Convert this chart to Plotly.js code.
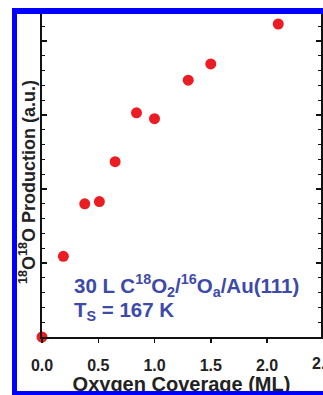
<!DOCTYPE html>
<html>
<head>
<meta charset="utf-8">
<script src="https://cdn.plot.ly/plotly-3.0.1.min.js"></script>
<style>
html,body{margin:0;padding:0;background:#fff;overflow:hidden;}
#wrap{position:relative;width:323px;height:395px;}
#chart{width:323px;height:395px;}
#frame{position:absolute;left:12px;top:8px;width:400px;height:387px;box-sizing:border-box;
border-left:5px solid #0000ff;border-top:6px solid #0000ff;border-bottom:4px solid #0000ff;pointer-events:none;}
</style>
</head>
<body>
<div id="wrap"><div id="chart"></div><div id="frame"></div></div>
<script>
const coverage = [0, 0.19, 0.38, 0.51, 0.65, 0.84, 1.0, 1.3, 1.5, 2.1];
const production = [0, 1.09, 1.80, 1.83, 2.37, 3.03, 2.95, 3.47, 3.69, 4.23];
const xTickVals = [0, 0.5, 1.0, 1.5, 2.0];
const xTickText = ['0.0', '0.5', '1.0', '1.5', '2.0'];
const xEdgeTick = 2.5;
const xEdgeText = '2.5';
const xMax = 2.48;

const fam = 'Liberation Sans, Arial, sans-serif';
const tickFont = {size: 16, weight: 'bold', color: '#222', family: fam};
const data = [{
  x: coverage, y: production, type: 'scatter', mode: 'markers',
  marker: {color: '#ec1c24', size: 11}, cliponaxis: false, showlegend: false
}];
const layout = {
  width: 323, height: 395,
  margin: {l: 42, r: 2, t: 14, b: 58},
  paper_bgcolor: '#ffffff', plot_bgcolor: '#ffffff',
  font: {family: fam, color: '#222'},
  xaxis: {
    range: [0, xMax], tickvals: xTickVals, ticktext: xTickText,
    ticks: 'outside', ticklen: 4, tickwidth: 1.5, tickcolor: '#111',
    showline: true, linecolor: '#111', linewidth: 2, mirror: false,
    showgrid: false, zeroline: false, ticklabelstandoff: 9,
    tickfont: tickFont,
    title: {text: 'Oxygen Coverage (ML)', font: {size: 20, weight: 'bold', color: '#222'}, standoff: 8}
  },
  xaxis2: {
    overlaying: 'x', side: 'top', range: [0, xMax], tickvals: xTickVals,
    showticklabels: false, ticks: 'inside', ticklen: 4, tickwidth: 1.5, tickcolor: '#111',
    showline: true, linecolor: '#111', linewidth: 2, showgrid: false, zeroline: false
  },
  yaxis: {
    range: [0, 4.365], dtick: 1, tick0: 0,
    ticks: 'inside', ticklen: 5, tickwidth: 1.5, tickcolor: '#111',
    minor: {dtick: 0.2, ticks: 'inside', ticklen: 3, tickwidth: 1, tickcolor: '#111', showgrid: false},
    showticklabels: false, showline: true, linecolor: '#111', linewidth: 2, mirror: 'ticks',
    showgrid: false, zeroline: false
  },
  annotations: [
    {xref: 'paper', yref: 'paper', x: (27-42)/279, y: (337-182)/323, xanchor: 'center', yanchor: 'middle',
     textangle: -90, text: '<sup>18</sup>O<sup>18</sup>O Production (a.u.)', showarrow: false,
     font: {size: 18, weight: 'bold', color: '#222', family: fam}},
    {xref: 'paper', yref: 'paper', x: (72-42)/279, y: (337-285)/323, xanchor: 'left', yanchor: 'middle',
     text: '30 L C<sup>18</sup>O<sub>2</sub>/<sup>16</sup>O<sub>a</sub>/Au(111)', showarrow: false,
     font: {size: 20.5, weight: 'bold', color: '#3d4aa8', family: fam}},
    {xref: 'paper', yref: 'paper', x: (72-42)/279, y: (337-311)/323, xanchor: 'left', yanchor: 'middle',
     text: 'T<sub>S</sub> = 167 K', showarrow: false,
     font: {size: 20.5, weight: 'bold', color: '#3d4aa8', family: fam}},
    {xref: 'paper', yref: 'paper', x: xEdgeTick / xMax, y: (337-363)/323, xanchor: 'center', yanchor: 'middle',
     text: xEdgeText, showarrow: false, font: tickFont}
  ]
};
Plotly.newPlot('chart', data, layout, {staticPlot: true, displayModeBar: false});
</script>
</body>
</html>
